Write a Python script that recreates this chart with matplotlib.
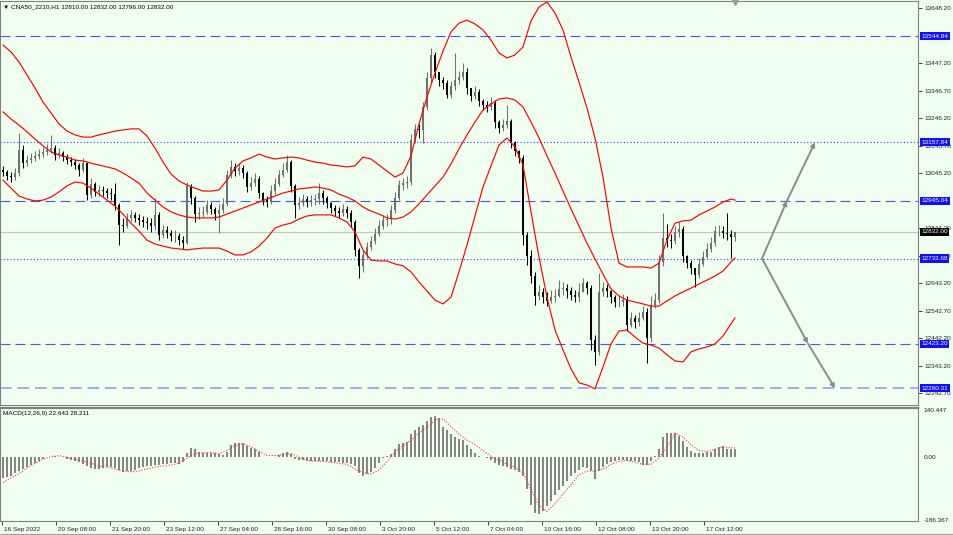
import numpy as np
import matplotlib
matplotlib.use("Agg")
import matplotlib.pyplot as plt
import matplotlib.transforms as mtransforms

plt.rcParams['font.family'] = ['Liberation Sans', 'DejaVu Sans']

# ---------------- data ----------------
title_text = "CNA50_2210,H1 12810.00 12832.00 12796.00 12832.00"
macd_title = "MACD(12,26,9) 22.643 28.211"

open0 = 13057
closes = [13050, 13035, 13031, 13046, 13130, 13082, 13093, 13101, 13108, 13115,
          13123, 13130, 13137, 13112, 13119, 13104, 13093, 13086, 13075, 13057,
          13082, 12966, 13006, 12977, 12984, 12980, 12973, 12969, 12929, 12856,
          12853, 12882, 12893, 12882, 12874, 12867, 12863, 12853, 12893, 12820,
          12838, 12827, 12816, 12816, 12801, 12790, 12999, 12955, 12896, 12900,
          12904, 12929, 12915, 12896, 12911, 12933, 13039, 13068, 13053, 13064,
          13046, 12995, 13009, 13024, 12973, 12947, 12940, 12980, 13006, 13039,
          13057, 13086, 12999, 12929, 12936, 12951, 12940, 12947, 12951, 12973,
          12955, 12936, 12918, 12907, 12900, 12915, 12900, 12867, 12765, 12707,
          12747, 12776, 12798, 12823, 12853, 12874, 12878, 12911, 12955, 13002,
          13009, 13013, 13166, 13207, 13203, 13287, 13393, 13477, 13415, 13385,
          13374, 13331, 13364, 13385, 13396, 13415, 13356, 13327, 13342, 13309,
          13294, 13287, 13301, 13232, 13210, 13221, 13236, 13155, 13126, 13101,
          12820, 12743, 12670, 12597, 12612, 12593, 12579, 12593, 12597, 12623,
          12626, 12615, 12601, 12593, 12612, 12644, 12626, 12436, 12393, 12612,
          12626, 12615, 12593, 12575, 12575, 12582, 12491, 12517, 12502, 12517,
          12539, 12444, 12564, 12582, 12721, 12809, 12801, 12798, 12831, 12842,
          12743, 12717, 12699, 12674, 12714, 12739, 12769, 12790, 12834, 12834,
          12827, 12823, 12812, 12832]
highs = [13072, 13057, 13050, 13064, 13192, 13148, 13112, 13119, 13126, 13134,
         13141, 13152, 13185, 13148, 13137, 13126, 13115, 13104, 13097, 13082,
         13101, 13086, 13028, 13013, 13002, 12999, 12991, 12991, 13009, 12936,
         12882, 12900, 12911, 12904, 12896, 12889, 12885, 12882, 12955, 12904,
         12856, 12853, 12838, 12838, 12827, 12816, 13013, 13006, 12962, 12922,
         12926, 12947, 12940, 12922, 12933, 12955, 13057, 13093, 13082, 13082,
         13075, 13053, 13031, 13046, 13035, 12977, 12962, 13002, 13028, 13057,
         13082, 13112, 13093, 13006, 12958, 12969, 12962, 12966, 12969, 13009,
         12984, 12962, 12940, 12929, 12922, 12933, 12926, 12911, 12874, 12772,
         12765, 12794, 12816, 12845, 12874, 12893, 12896, 12929, 12977, 13020,
         13028, 13035, 13188, 13225, 13225, 13305, 13415, 13502, 13488, 13407,
         13396, 13385, 13382, 13484, 13418, 13447, 13429, 13356, 13364, 13353,
         13316, 13309, 13323, 13312, 13239, 13243, 13294, 13243, 13163, 13130,
         13112, 12831, 12765, 12685, 12637, 12626, 12612, 12619, 12623, 12655,
         12648, 12641, 12630, 12619, 12644, 12663, 12652, 12637, 12455, 12681,
         12648, 12641, 12619, 12601, 12597, 12604, 12597, 12539, 12528, 12539,
         12560, 12553, 12597, 12608, 12747, 12900, 12860, 12823, 12853, 12867,
         12853, 12747, 12728, 12699, 12736, 12761, 12790, 12812, 12853, 12856,
         12853, 12900, 12838, 12832]
lows = [13035, 13020, 13013, 13020, 13035, 13064, 13072, 13082, 13090, 13097,
        13104, 13112, 13119, 13093, 13101, 13090, 13079, 13072, 13061, 13035,
        13050, 12947, 12955, 12962, 12962, 12962, 12955, 12947, 12911, 12783,
        12831, 12845, 12871, 12867, 12856, 12849, 12842, 12831, 12838, 12801,
        12809, 12809, 12798, 12794, 12783, 12769, 12787, 12933, 12867, 12878,
        12885, 12896, 12896, 12874, 12827, 12900, 12926, 13028, 13035, 13039,
        13028, 12977, 12984, 12999, 12955, 12929, 12922, 12933, 12969, 12999,
        13031, 13050, 12977, 12882, 12915, 12926, 12922, 12926, 12929, 12933,
        12933, 12918, 12900, 12889, 12882, 12889, 12882, 12849, 12743, 12663,
        12685, 12736, 12765, 12787, 12816, 12842, 12853, 12860, 12900, 12947,
        12984, 12991, 13002, 13155, 13174, 13155, 13276, 13378, 13393, 13364,
        13353, 13320, 13320, 13349, 13371, 13385, 13334, 13309, 13316, 13291,
        13276, 13269, 13276, 13210, 13192, 13199, 13210, 13137, 13108, 13082,
        12783, 12710, 12644, 12564, 12582, 12571, 12560, 12571, 12575, 12593,
        12601, 12590, 12582, 12575, 12575, 12612, 12604, 12400, 12345, 12382,
        12597, 12593, 12571, 12557, 12557, 12560, 12469, 12484, 12480, 12487,
        12509, 12353, 12429, 12553, 12571, 12706, 12776, 12772, 12787, 12812,
        12721, 12699, 12677, 12630, 12663, 12706, 12736, 12758, 12780, 12816,
        12809, 12801, 12736, 12796]

# Bollinger bands, sampled every second candle (plus the last one)
bb_upper = [13513, 13488, 13451, 13404, 13356, 13305, 13265, 13225, 13199, 13185,
            13177, 13177, 13185, 13192, 13199, 13203, 13207, 13207, 13181, 13137,
            13086, 13042, 13017, 13002, 12991, 12980, 12980, 12984, 13020, 13064,
            13090, 13101, 13115, 13104, 13097, 13101, 13104, 13101, 13093, 13086,
            13082, 13075, 13072, 13068, 13072, 13104, 13097, 13075, 13053, 13031,
            13046, 13108, 13225, 13323, 13411, 13491, 13561, 13593, 13604, 13590,
            13568, 13531, 13484, 13466, 13477, 13506, 13601, 13652, 13670, 13630,
            13568, 13469, 13378, 13283, 13174, 13031, 12845, 12717, 12703, 12703,
            12703, 12699, 12717, 12801, 12863, 12871, 12874, 12893, 12907, 12922,
            12940, 12951, 12947]
bb_middle = [13269, 13243, 13221, 13196, 13170, 13145, 13123, 13112, 13104, 13093,
             13090, 13082, 13075, 13068, 13061, 13046, 13028, 13009, 12973, 12947,
             12922, 12904, 12893, 12885, 12882, 12882, 12882, 12885, 12896, 12907,
             12918, 12929, 12940, 12951, 12962, 12973, 12980, 12988, 12991, 12995,
             12991, 12984, 12969, 12958, 12944, 12922, 12907, 12896, 12882, 12878,
             12885, 12904, 12933, 12966, 12999, 13031, 13079, 13134, 13185, 13232,
             13276, 13298, 13316, 13320, 13312, 13287, 13232, 13174, 13108, 13046,
             12980, 12915, 12852, 12790, 12732, 12677, 12623, 12597, 12582, 12575,
             12568, 12560, 12560, 12579, 12597, 12612, 12626, 12641, 12655, 12670,
             12688, 12721, 12736]
bb_lower = [13020, 12991, 12962, 12951, 12944, 12947, 12958, 12977, 12999, 13013,
            13009, 12991, 12969, 12947, 12925, 12896, 12863, 12834, 12801, 12787,
            12779, 12772, 12769, 12765, 12769, 12772, 12772, 12772, 12761, 12747,
            12747, 12758, 12779, 12809, 12845, 12856, 12863, 12878, 12889, 12893,
            12893, 12893, 12882, 12867, 12831, 12765, 12728, 12725, 12725, 12714,
            12707, 12685, 12648, 12615, 12582, 12568, 12593, 12685, 12783, 12889,
            12995, 13072, 13148, 13174, 13141, 13075, 12904, 12739, 12593, 12473,
            12400, 12331, 12280, 12272, 12258, 12338, 12422, 12469, 12473, 12447,
            12425, 12418, 12407, 12382, 12360, 12356, 12393, 12404, 12411, 12422,
            12451, 12495, 12517]

macd_hist = [-62, -59, -56, -47, -42, -36, -30, -24, -19, -13,
             -7, -1, 1, 4, 1, -1, -7, -10, -13, -16,
             -22, -27, -33, -36, -36, -33, -30, -30, -33, -39,
             -44, -42, -42, -39, -33, -30, -27, -27, -24, -24,
             -22, -22, -19, -19, -22, -16, 13, 27, 22, 16,
             13, 13, 13, 13, 10, 7, 16, 36, 42, 42,
             42, 33, 27, 24, 16, 1, -1, -1, 1, 7,
             13, 16, 10, -7, -10, -10, -13, -13, -13, -13,
             -13, -13, -16, -16, -16, -19, -19, -22, -27, -47,
             -56, -50, -44, -33, -19, -4, 4, 10, 22, 39,
             42, 44, 67, 79, 88, 96, 105, 119, 122, 116,
             88, 79, 67, 59, 53, 50, 36, 24, 13, 4,
             -1, -4, -10, -19, -24, -27, -30, -36, -39, -44,
             -56, -96, -142, -165, -168, -159, -145, -131, -113, -99,
             -85, -70, -56, -47, -39, -30, -33, -42, -65, -42,
             -30, -22, -16, -13, -10, -10, -13, -13, -13, -16,
             -24, -24, -13, 4, 24, 59, 70, 70, 70, 62,
             47, 30, 19, 13, 13, 13, 16, 16, 24, 30,
             33, 24, 22, 22]
macd_signal = [-76, -62, -50, -33, -19, -7, 1, 4, -1, -7,
               -13, -19, -27, -30, -36, -42, -44, -42, -36, -30,
               -27, -24, -19, -4, 10, 13, 13, 10, 19, 33,
               39, 30, 16, 4, 4, 7, 10, -1, -10, -13,
               -13, -16, -19, -22, -36, -47, -50, -39, -13, 13,
               33, 50, 70, 88, 110, 113, 90, 67, 50, 36,
               19, 1, -10, -22, -30, -47, -96, -145, -162, -139,
               -110, -82, -53, -42, -42, -36, -22, -13, -10, -16,
               -22, -22, -4, 30, 70, 59, 36, 19, 16, 22,
               30, 27, 27]

xtick_labels = ["16 Sep 2022", "20 Sep 08:00", "21 Sep 20:00", "23 Sep 12:00",
                "27 Sep 04:00", "28 Sep 16:00", "30 Sep 08:00", "3 Oct 20:00",
                "5 Oct 12:00", "7 Oct 04:00", "10 Oct 16:00", "12 Oct 08:00",
                "13 Oct 20:00", "17 Oct 12:00"]
price_ticks = [13648.20, 13447.20, 13346.70, 13246.20, 13145.70, 13045.20,
               12844.20, 12743.70, 12643.20, 12542.70, 12442.20, 12343.20,
               12242.70]
levels_dashed = [13544.84, 12945.04, 12423.20]
levels_dotted = [13157.84, 12733.68]
levels_light = [12260.31]
last_price = 12832.00
macd_ticks = [140.447, 0.0, -186.367]
proj_start = 12733.68
proj_up = [12945.04, 13157.84]
proj_down = [12423.20, 12260.31]

# ---------------- figure ----------------
BG = '#F0FFF0'
W, H = 954, 535
fig = plt.figure(figsize=(W / 100, H / 100), dpi=100, facecolor=BG)

def frac_rect(x0, y0, x1, y1):
    return [x0 / W, 1 - y1 / H, (x1 - x0) / W, (y1 - y0) / H]

ax = fig.add_axes(frac_rect(0, 1, 918, 405), facecolor=BG)
ax2 = fig.add_axes(frac_rect(0, 408, 918, 521), facecolor=BG)

n = len(closes)
k = np.arange(n)
c = np.asarray(closes, float)
o = np.r_[open0, c[:-1]]
h = np.maximum(np.asarray(highs, float), np.maximum(o, c))
l = np.minimum(np.asarray(lows, float), np.minimum(o, c))
bull = c >= o

# horizontal levels
for lv in levels_dashed:
    ax.axhline(lv, color='#5050ff', lw=0.8, ls=(0, (9, 4.5)), zorder=1)
for lv in levels_dotted:
    ax.axhline(lv, color='#3a3aff', lw=0.8, ls=(0, (1, 2)), zorder=1)
for lv in levels_light:
    ax.axhline(lv, color='#a8a8ff', lw=1.4, ls=(0, (6, 3)), zorder=1)
ax.axhline(last_price, color='#c4c4c4', lw=0.8, zorder=1)

# candles
for mask, col in ((bull, '#707070'), (~bull, '#000000')):
    ax.vlines(k[mask], l[mask], h[mask], color=col, lw=0.75, zorder=2)
    bottom = np.minimum(o, c)[mask]
    height = np.maximum(np.abs(c - o)[mask], 1.5)
    ax.bar(k[mask], height, bottom=bottom, width=0.5, color=col, lw=0, zorder=2)

# bollinger bands
band_k = np.r_[np.arange(0, n, 2), n - 1]
for band in (bb_upper, bb_middle, bb_lower):
    ax.plot(band_k, band, color='#ff0000', lw=0.85, zorder=3)

# projection arrows
last_k = n - 1
start_x = last_k + 6.75
up_x = [last_k + 13, last_k + 20]
down_x = [last_k + 18.25, last_k + 25]
for xs, ys in ((up_x, proj_up), (down_x, proj_down)):
    px, py = start_x, proj_start
    for xx, yy in zip(xs, ys):
        ax.annotate('', xy=(xx, yy), xytext=(px, py),
                    arrowprops=dict(arrowstyle='-|>', color='#8c8c8c', lw=1.4,
                                    mutation_scale=6, shrinkA=0, shrinkB=0),
                    zorder=4)
        px, py = xx, yy

# chart shift marker
y_top = 13677.4 - 3.65 * 1
y_bot = 13677.4 - 3.65 * 405
ax.plot([last_k], [y_top - 3], marker='v', color='#9a9a9a', ms=4, clip_on=False, zorder=5)

ax.set_xlim(-0.75, 228.75)
ax.set_ylim(y_bot, y_top)
ax.set_xticks([])
ax.yaxis.tick_right()
ax.set_yticks(price_ticks)
ax.set_yticklabels([f"{v:.2f}" for v in price_ticks])
ax.tick_params(axis='y', direction='out', length=3, width=0.6, pad=2,
               labelsize=4.6, colors='#202020')
for sp in ax.spines.values():
    sp.set_color('#808080')
    sp.set_linewidth(0.8)

# level label boxes
ytr = ax.get_yaxis_transform()
for lv in levels_dashed + levels_dotted + levels_light:
    ax.text(1.0035, lv, f"{lv:.2f}", transform=ytr, fontsize=4.6, color='white',
            ha='left', va='center', zorder=6,
            bbox=dict(boxstyle='square,pad=0.25', fc='#1010ff', ec='none'))
ax.text(1.0035, last_price, f"{last_price:.2f}", transform=ytr, fontsize=4.6, color='white',
        ha='left', va='center', zorder=6,
        bbox=dict(boxstyle='square,pad=0.25', fc='#000000', ec='none'))

# title
fig.text(3 / W, 1 - 7 / H, "\u25bc " + title_text, fontsize=4.6, color='#000000',
         ha='left', va='center')

# ---------------- MACD ----------------
ax2.bar(k, macd_hist, width=0.62, color='#858585', lw=0, zorder=2)
ax2.plot(band_k, macd_signal, color='#ff3030', lw=0.8, ls=(0, (1, 1.5)), zorder=3)
ax2.set_xlim(-0.75, 228.75)
ax2.set_ylim(-190, 145)
ax2.yaxis.tick_right()
ax2.set_yticks(macd_ticks)
ax2.set_yticklabels(["140.447", "0.00", "-186.367"])
ax2.tick_params(axis='y', direction='out', length=0, pad=4, labelsize=4.6, colors='#202020')
xtick_pos = 13.5 * np.arange(len(xtick_labels)) - 0.25
ax2.set_xticks(xtick_pos)
ax2.set_xticklabels(xtick_labels)
ax2.tick_params(axis='x', direction='out', length=3, width=0.6, pad=1,
                labelsize=4.6, colors='#202020')
offset = mtransforms.ScaledTranslation(2 / 100, 0, fig.dpi_scale_trans)
for lab in ax2.get_xticklabels():
    lab.set_ha('left')
    lab.set_transform(lab.get_transform() + offset)
for sp in ax2.spines.values():
    sp.set_color('#808080')
    sp.set_linewidth(0.8)
ax2.spines['top'].set_linewidth(1.6)
fig.text(3 / W, 1 - 414 / H, macd_title, fontsize=4.6, color='#000000', ha='left', va='center')

fig.add_artist(plt.Line2D([0, 1], [1 - 533.5 / H, 1 - 533.5 / H], color='#a0a0a0', lw=0.8))

fig.savefig("out.png", dpi=100, facecolor=BG)
